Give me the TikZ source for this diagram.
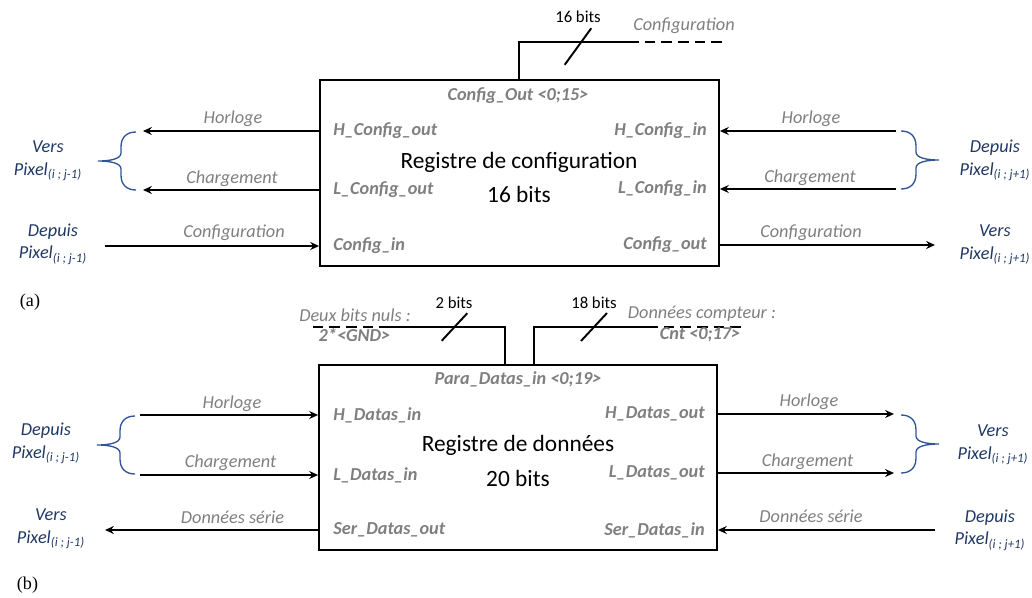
\documentclass[tikz,border=0pt]{standalone}
\usepackage{fontspec}
\setmainfont{Carlito}
\newfontfamily\capfont{Liberation Serif}
\usepackage{xcolor}
\usepackage{tikz}
\usetikzlibrary{arrows.meta,calc}

\definecolor{siggray}{HTML}{7F7F7F}
\definecolor{pixblue}{HTML}{1F3864}
\definecolor{braceblue}{HTML}{2F5496}

\tikzset{
  regbox/.style={draw,line width=1.1pt,inner sep=0pt},
  wire/.style={line width=1.1pt},
  sigarrow/.style={wire,-{Stealth[length=5pt,width=4.5pt]}},
  busdash/.style={wire,dash pattern=on 6pt off 3.5pt},
  portlbl/.style={font=\fontsize{10.4}{12}\selectfont\bfseries\itshape,text=siggray,inner sep=0pt},
  siglbl/.style={font=\fontsize{10.4}{12}\selectfont\itshape,text=siggray,inner sep=0pt},
  bitslbl/.style={font=\fontsize{9.5}{11}\selectfont,inner sep=0pt},
  pixlbl/.style={font=\fontsize{10.4}{13}\selectfont\itshape,text=pixblue,align=center,inner sep=0pt},
  titlelbl/.style={font=\fontsize{13.3}{19.5}\selectfont,align=center,inner sep=0pt},
  curly/.pic={
    \draw[braceblue,line width=0.75pt] (0,-29) .. controls (-9,-29) and (-15,-24) .. (-15,-14)
      -- (-15,-8) .. controls (-15,-2) and (-26,0) .. (-38,0)
      .. controls (-26,0) and (-15,2) .. (-15,8) -- (-15,14)
      .. controls (-15,24) and (-9,29) .. (0,29);
  }
}
\newcommand{\busslash}[3]{\draw[wire] ($(#1)+(-#2,#3)$) -- ($(#1)+(#2,-#3)$);}

\begin{document}
\begin{tikzpicture}[x=0.02cm,y=-0.02cm]
  \useasboundingbox (0,0) rectangle (1032,598);

  % ===== (a) Registre de configuration =====
  \node[regbox,minimum width=7.98cm,minimum height=3.72cm] (cfg) at (519.5,173) {};
  \node[titlelbl] (cfgtitle) at (519,177.5) {Registre de configuration\\16 bits};
  \node[portlbl] (cfgbus) at (518,96) {Config\_Out <0;15>};

  % Draw output bus
  \coordinate (cfgbend) at (519,42);
  \coordinate (cfgsolid) at (628,42);
  \coordinate (cfgdash) at (727,42);
  \draw[wire] (cfg.north -| cfgbend) -- (cfgbend) -- (cfgsolid);
  \draw[busdash] (cfgsolid) -- (cfgdash);
  \busslash{578,46.5}{13.3}{18.3}
  \node[bitslbl] (cfgbits) at (578,17) {16 bits};
  \node[siglbl] (cfgsig) at (684,26) {Configuration};

  % Ports
  \node[portlbl,anchor=west] (hcfgout) at (333,131) {H\_Config\_out};
  \node[portlbl,anchor=west] (lcfgout) at (333,190) {L\_Config\_out};
  \node[portlbl,anchor=west] (cfgin) at (333,246) {Config\_in};
  \node[portlbl,anchor=east] (hcfgin) at (707,131) {H\_Config\_in};
  \node[portlbl,anchor=east] (lcfgin) at (707,189) {L\_Config\_in};
  \node[portlbl,anchor=east] (cfgout) at (707,245) {Config\_out};

  % Free ends
  \coordinate (ahl) at (143,131);
  \coordinate (all) at (143,190);
  \coordinate (asl) at (105,246);
  \coordinate (ahr) at (896,131);
  \coordinate (alr) at (896,189);
  \coordinate (asr) at (935,245);

  % Draw signals
  \draw[sigarrow] (hcfgout -| cfg.west) -- (ahl);
  \draw[sigarrow] (lcfgout -| cfg.west) -- (all);
  \draw[sigarrow] (asl) -- (cfgin -| cfg.west);
  \draw[sigarrow] (ahr) -- (hcfgin -| cfg.east);
  \draw[sigarrow] (alr) -- (lcfgin -| cfg.east);
  \draw[sigarrow] (cfgout -| cfg.east) -- (asr);

  \node[siglbl] (ahlsig) at (233,119) {Horloge};
  \node[siglbl] (allsig) at (232,179) {Chargement};
  \node[siglbl] (aslsig) at (234,233) {Configuration};
  \node[siglbl] (ahrsig) at (811,119) {Horloge};
  \node[siglbl] (alrsig) at (810,178) {Chargement};
  \node[siglbl] (asrsig) at (811,233) {Configuration};

  % Neighbour pixels
  \path (136,161) pic {curly};
  \path (901,160) pic[xscale=-1] {curly};
  \node[pixlbl] (apixvl) at (48,161) {Vers\\Pixel\textsubscript{(i ; j-1)}};
  \node[pixlbl] (apixdl) at (53,244) {Depuis\\Pixel\textsubscript{(i ; j-1)}};
  \node[pixlbl] (apixdr) at (995,160.5) {Depuis\\Pixel\textsubscript{(i ; j+1)}};
  \node[pixlbl] (apixvr) at (995,245) {Vers\\Pixel\textsubscript{(i ; j+1)}};

  \node[font=\capfont\fontsize{10.3}{12}\selectfont,inner sep=0pt] (capa) at (30,302) {(a)};

  % ===== (b) Registre de donnees =====
  \node[regbox,minimum width=7.96cm,minimum height=3.70cm] (dat) at (518,457.5) {};
  \node[titlelbl] (dattitle) at (518,461) {Registre de données\\20 bits};
  \node[portlbl] (datbus) at (518,379) {Para\_Datas\_in <0;19>};

  % Draw input buses
  \coordinate (gndbend) at (505,327);
  \coordinate (gndsolid) at (390,327);
  \coordinate (gnddash) at (309,327);
  \coordinate (cntbend) at (534,327);
  \coordinate (cntsolid) at (647,327);
  \coordinate (cntdash) at (742,327);
  \draw[wire] (dat.north -| gndbend) -- (gndbend) -- (gndsolid);
  \draw[busdash] (gndsolid) -- (gnddash);
  \draw[wire] (dat.north -| cntbend) -- (cntbend) -- (cntsolid);
  \draw[busdash] (cntsolid) -- (cntdash);
  \busslash{454.5,327}{12.8}{13.8}
  \busslash{594,327}{13}{14}
  \node[bitslbl] (gndbits) at (454,303) {2 bits};
  \node[bitslbl] (cntbits) at (594,303) {18 bits};
  \node[siglbl] (gndsig) at (355,315) {Deux bits nuls :};
  \node[portlbl] (gndval) at (354.5,335) {2*<GND>};
  \node[siglbl] (cntsig) at (702,314) {Données compteur :};
  \node[portlbl] (cntval) at (700,335) {Cnt <0;17>};

  % Ports
  \node[portlbl,anchor=west] (hdatin) at (333,415) {H\_Datas\_in};
  \node[portlbl,anchor=west] (ldatin) at (333,475) {L\_Datas\_in};
  \node[portlbl,anchor=west] (serout) at (333,530) {Ser\_Datas\_out};
  \node[portlbl,anchor=east] (hdatout) at (705,414) {H\_Datas\_out};
  \node[portlbl,anchor=east] (ldatout) at (705,473) {L\_Datas\_out};
  \node[portlbl,anchor=east] (serin) at (705,530) {Ser\_Datas\_in};

  % Free ends
  \coordinate (bhl) at (140,415);
  \coordinate (bll) at (140,475);
  \coordinate (bsl) at (105,530);
  \coordinate (bhr) at (894,414);
  \coordinate (blr) at (894,473);
  \coordinate (bsr) at (935,530);

  % Draw signals
  \draw[sigarrow] (bhl) -- (hdatin -| dat.west);
  \draw[sigarrow] (bll) -- (ldatin -| dat.west);
  \draw[sigarrow] (serout -| dat.west) -- (bsl);
  \draw[sigarrow] (hdatout -| dat.east) -- (bhr);
  \draw[sigarrow] (ldatout -| dat.east) -- (blr);
  \draw[sigarrow] (bsr) -- (serin -| dat.east);

  \node[siglbl] (bhlsig) at (232,404) {Horloge};
  \node[siglbl] (bllsig) at (230.5,463) {Chargement};
  \node[siglbl] (bslsig) at (232.5,517) {Données série};
  \node[siglbl] (bhrsig) at (809,402) {Horloge};
  \node[siglbl] (blrsig) at (807.5,462) {Chargement};
  \node[siglbl] (bsrsig) at (811,516) {Données série};

  % Neighbour pixels
  \path (135,445) pic {curly};
  \path (901,444) pic[xscale=-1] {curly};
  \node[pixlbl] (bpixdl) at (46,443.5) {Depuis\\Pixel\textsubscript{(i ; j-1)}};
  \node[pixlbl] (bpixvl) at (51,528.5) {Vers\\Pixel\textsubscript{(i ; j-1)}};
  \node[pixlbl] (bpixvr) at (993,444.5) {Vers\\Pixel\textsubscript{(i ; j+1)}};
  \node[pixlbl] (bpixdr) at (990,530) {Depuis\\Pixel\textsubscript{(i ; j+1)}};

  \node[font=\capfont\fontsize{10.3}{12}\selectfont,inner sep=0pt] (capb) at (27.5,585) {(b)};
\end{tikzpicture}
\end{document}
